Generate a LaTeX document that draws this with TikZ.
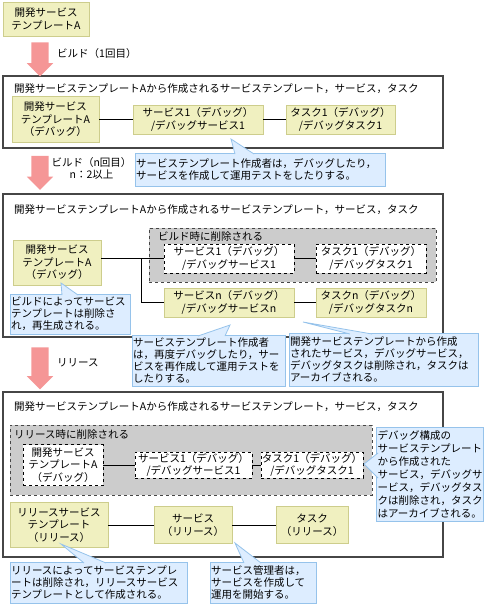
\documentclass[tikz,border=0pt]{standalone}
\usepackage{fontspec}
\setmainfont{Noto Sans CJK JP}
\usepackage{tikz}
\usetikzlibrary{shapes.arrows}
\definecolor{boxfill}{RGB}{240,240,192}
\definecolor{boxline}{RGB}{205,205,140}
\definecolor{notefill}{RGB}{221,237,255}
\definecolor{noteline}{RGB}{150,195,235}
\definecolor{arrowpink}{RGB}{245,150,150}
\definecolor{delgray}{RGB}{204,204,204}
\definecolor{darkline}{RGB}{70,70,70}
\tikzstyle{every node} = [font=\fontsize{10.5}{12.5}\selectfont, inner sep=0pt]
\tikzstyle{panel} = [draw=darkline, line width=1.3pt, minimum width=440pt]
\tikzstyle{title} = [anchor=west]
\tikzstyle{devbox} = [draw=boxline, fill=boxfill, line width=0.8pt, align=center]
\tikzstyle{delbox} = [draw, dashed, fill=white, line width=0.8pt, align=center]
\tikzstyle{delarea} = [draw=darkline, dashed, fill=delgray, line width=0.9pt]
\tikzstyle{note} = [draw=noteline, fill=notefill, line width=0.8pt, align=left, inner xsep=1pt, font=\fontsize{10.5}{12}\selectfont]
\tikzstyle{link} = [line width=0.8pt]
\tikzstyle{bigarrow} = [single arrow, fill=arrowpink, rotate=-90, minimum height=34pt, minimum width=26pt, single arrow head extend=4.5pt, inner ysep=8.5pt]

\begin{document}
\begin{tikzpicture}[x=1pt, y=-1pt]
	\useasboundingbox (0,0) rectangle (489,605);
	% panels
	\node[panel, minimum height=72pt] (p1) at (223,112) {};
	\node[panel, minimum height=143pt] (p2) at (223,265.5) {};
	\node[panel, minimum height=165pt] (p3) at (223,474.5) {};
	\node[title] (t1) at (14,89) {開発サービステンプレートAから作成されるサービステンプレート，サービス，タスク};
	\node[title] (t2) at (14,210) {開発サービステンプレートAから作成されるサービステンプレート，サービス，タスク};
	\node[title] (t3) at (14,407) {開発サービステンプレートAから作成されるサービステンプレート，サービス，タスク};

	\node[devbox, minimum width=86pt, minimum height=34pt] (tmplA) at (46,19) {開発サービス\\テンプレートA};
	\node[bigarrow] (ar1) at (40,55) {};
	\node[anchor=west] (lb1) at (57,54) {ビルド（1回目）};

	% 1st build
	\node[devbox, minimum width=87pt, minimum height=46pt] (devA1) at (55.5,119.5) {開発サービス\\テンプレートA\\（デバッグ）};
	\node[devbox, minimum width=130pt, minimum height=29pt] (svc1) at (198,119.5) {サービス1（デバッグ）\\/デバッグサービス1};
	\node[devbox, minimum width=109pt, minimum height=29pt] (task1) at (340.5,119.5) {タスク1（デバッグ）\\/デバッグタスク1};
	\draw[link] (devA1) -- (svc1);
	\draw[link] (svc1) -- (task1);

	\node[bigarrow] (ar2) at (40,168.5) {};
	\node[align=center] (lb2) at (91.5,168.5) {ビルド（n回目）\\n：2以上};

	% n-th build
	\node[delarea, minimum width=287pt, minimum height=54pt] (del2) at (292.5,255) {};
	\node[anchor=west] (dl2) at (158,237) {ビルド時に削除される};
	\node[delbox, minimum width=130pt, minimum height=29pt] (dsvc1) at (229,258.5) {サービス1（デバッグ）\\/デバッグサービス1};
	\node[delbox, minimum width=110pt, minimum height=29pt] (dtask1) at (371,258.5) {タスク1（デバッグ）\\/デバッグタスク1};
	\node[devbox, minimum width=88pt, minimum height=45pt] (devA2) at (57,262.5) {開発サービス\\テンプレートA\\（デバッグ）};
	\node[devbox, minimum width=130pt, minimum height=29pt] (svcN) at (229,302.5) {サービスn（デバッグ）\\/デバッグサービスn};
	\node[devbox, minimum width=110pt, minimum height=29pt] (taskN) at (371,302.5) {タスクn（デバッグ）\\/デバッグタスクn};
	\coordinate (br) at (141,258.5);
	\draw[link] (devA2.east |- dsvc1) -- (dsvc1.west);
	\draw[link] (br) |- (svcN.west);
	\draw[link] (dsvc1) -- (dtask1);
	\draw[link] (svcN) -- (taskN);

	\node[bigarrow, minimum height=42pt] (ar3) at (40,364) {};
	\node[anchor=west] (lb3) at (57,363) {リリース};

	% release
	\node[delarea, minimum width=362pt, minimum height=70pt] (del3) at (191,460) {};
	\node[anchor=west] (dl3) at (14,435) {リリース時に削除される};
	\node[delbox, minimum width=80pt, minimum height=41pt] (dA3) at (63,465) {開発サービス\\テンプレートA\\（デバッグ）};
	\node[delbox, minimum width=117pt, minimum height=26pt] (dsvc3) at (193.5,465) {サービス1（デバッグ）\\/デバッグサービス1};
	\node[delbox, minimum width=102pt, minimum height=26pt] (dtask3) at (312,465) {タスク1（デバッグ）\\/デバッグタスク1};
	\draw[link] (dA3) -- (dsvc3);
	\draw[link] (dsvc3) -- (dtask3);
	\node[devbox, minimum width=98pt, minimum height=45pt] (relT) at (59,525) {リリースサービス\\テンプレート\\（リリース）};
	\node[devbox, minimum width=78pt, minimum height=37pt] (relS) at (193,525) {サービス\\（リリース）};
	\node[devbox, minimum width=72pt, minimum height=37pt] (relK) at (312,525) {タスク\\（リリース）};
	\draw[link] (relT) -- (relS);
	\draw[link] (relS) -- (relK);

	% notes
	\node[note, text width=248pt, minimum height=33pt] (c1) at (260,169.5) {サービステンプレート作成者は，デバッグしたり，\\サービスを作成して運用テストをしたりする。};
	\fill[notefill] (231,139) -- (235,154) -- (254,154) -- cycle;
	\draw[noteline, line width=0.8pt] (235,154) -- (231,139) -- (254,154);

	\node[note, text width=118pt, minimum height=40pt] (c2) at (70,314) {ビルドによってサービス\\テンプレートは削除さ\\れ，再生成される。};
	\fill[notefill] (61,283) -- (62,295) -- (78,295) -- cycle;
	\draw[noteline, line width=0.8pt] (62,295) -- (61,283) -- (78,295);

	\node[note, text width=151pt, minimum height=51pt] (c3) at (208.5,360.5) {サービステンプレート作成者\\は，再度デバッグしたり，サー\\ビスを再作成して運用テストを\\したりする。};
	\fill[notefill] (230,325) -- (198,336) -- (225,336) -- cycle;
	\draw[noteline, line width=0.8pt] (198,336) -- (230,325) -- (225,336);

	\node[note, text width=187pt, minimum height=53pt] (c4) at (383.5,359.5) {開発サービステンプレートから作成\\されたサービス，デバッグサービス，\\デバッグタスクは削除され，タスクは\\アーカイブされる。};
	\fill[notefill] (303,322) -- (350,334) -- (372,334) -- cycle;
	\draw[noteline, line width=0.8pt] (350,334) -- (303,322) -- (372,334);

	\node[note, text width=105pt, minimum height=94pt, font=\fontsize{10.5}{13}\selectfont] (c5) at (430,474) {デバッグ構成の\\サービステンプレート\\から作成された\\サービス，デバッグサ\\ービス，デバッグタス\\クは削除され，タスク\\はアーカイブされる。};
	\fill[notefill] (364,464) -- (378,453) -- (378,478) -- cycle;
	\draw[noteline, line width=0.8pt] (378,453) -- (364,464) -- (378,478);

	\node[note, text width=175pt, minimum height=41pt] (c6) at (98.5,582.5) {リリースによってサービステンプレ\\ートは削除され，リリースサービス\\テンプレートとして作成される。};
	\fill[notefill] (61,544) -- (84,563) -- (106,563) -- cycle;
	\draw[noteline, line width=0.8pt] (84,563) -- (61,544) -- (106,563);

	\node[note, text width=104pt, minimum height=41pt] (c7) at (263,582.5) {サービス管理者は，\\サービスを作成して\\運用を開始する。};
	\fill[notefill] (235,543) -- (244,563) -- (261,563) -- cycle;
	\draw[noteline, line width=0.8pt] (244,563) -- (235,543) -- (261,563);
\end{tikzpicture}
\end{document}
